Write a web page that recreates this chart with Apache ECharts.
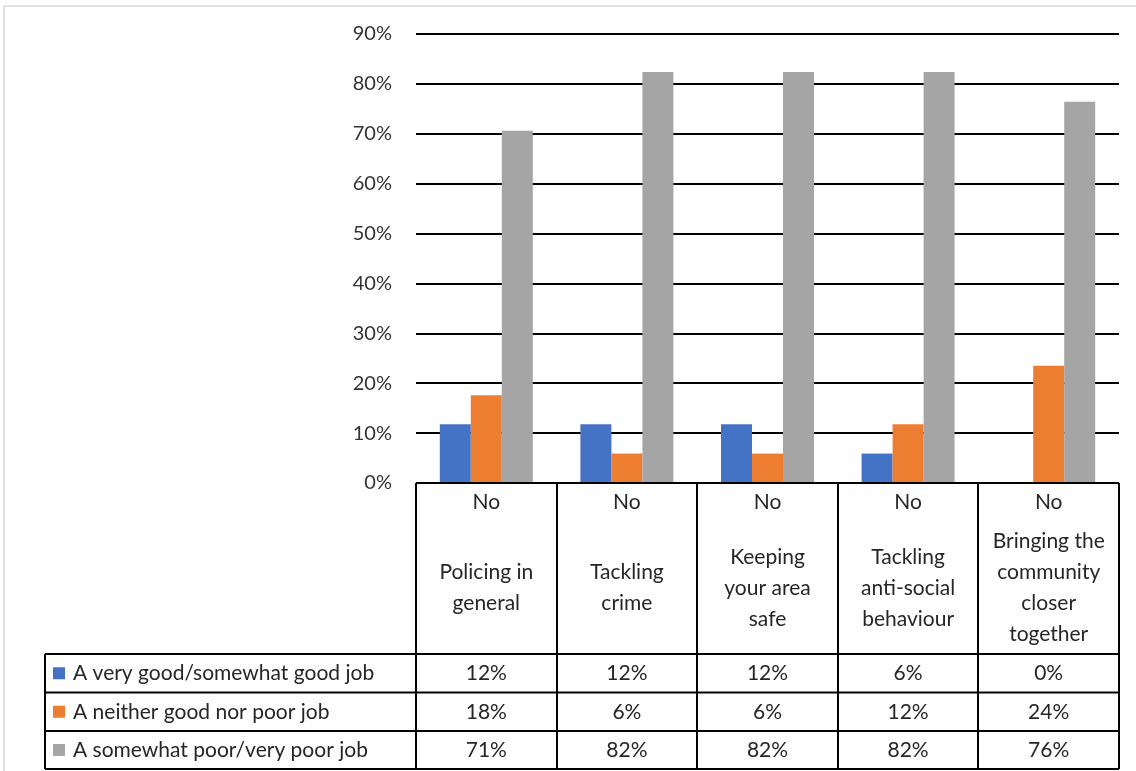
<!DOCTYPE html>
<html><head><meta charset="utf-8">
<script src="https://cdn.jsdelivr.net/npm/echarts@6/dist/echarts.min.js"></script>
<style>html,body{margin:0;padding:0;background:#fff}#c{width:1136px;height:771px}</style>
</head><body><div id="c"></div>
<script>
// ---- data ----
const categories = ['Policing in\ngeneral', 'Tackling\ncrime', 'Keeping\nyour area\nsafe', 'Tackling\nanti-social\nbehaviour', 'Bringing the\ncommunity\ncloser\ntogether'];
const outerLabel = 'No';
const seriesNames = ['A very good/somewhat good job', 'A neither good nor poor job', 'A somewhat poor/very poor job'];
const goodJob = [0.118, 0.118, 0.118, 0.059, 0];
const neitherJob = [0.176, 0.059, 0.059, 0.118, 0.235];
const poorJob = [0.706, 0.824, 0.824, 0.824, 0.764];
const yMin = 0, yMax = 0.9, yStep = 0.1;

// ---- style ----
const colors = ['#4472C4', '#ED7D31', '#A5A5A5'];
const FONT = 'Lato';
const FS = 21;
const AXFS = 20;
const TXT = '#262626';
const L = 416, R = 1119, T = 34, B = 483;
const rowY = [654, 692.5, 731, 769];
const legendLeft = 45;

const chart = echarts.init(document.getElementById('c'), null, {renderer: 'canvas'});
const allSeries = [goodJob, neitherJob, poorJob];

chart.setOption({
  animation: false,
  backgroundColor: '#fff',
  grid: {left: L, right: 1136 - R, top: T, bottom: 771 - B, containLabel: false},
  xAxis: {
    type: 'category', data: categories,
    axisLine: {show: false}, axisTick: {show: false}, axisLabel: {show: false}
  },
  yAxis: {
    type: 'value', min: yMin, max: yMax, interval: yStep,
    axisLine: {show: false}, axisTick: {show: false},
    axisLabel: {formatter: v => Math.round(v * 100) + '%', fontFamily: FONT, fontSize: AXFS, color: '#333', margin: 24},
    splitLine: {lineStyle: {color: '#000', width: 2}}
  },
  series: allSeries.map((d, i) => ({
    name: seriesNames[i], type: 'bar', data: d, barWidth: 31, barGap: '0%',
    itemStyle: {color: colors[i]}
  }))
});

// ---- data table drawn from the axis geometry ----
const c0 = chart.convertToPixel({xAxisIndex: 0}, 0);
const c1 = chart.convertToPixel({xAxisIndex: 0}, 1);
const bw = c1 - c0;
const els = [];
const line = (x1, y1, x2, y2, color, w) => els.push({type: 'line', shape: {x1, y1, x2, y2}, style: {stroke: color || '#000', lineWidth: w || 2}, z: 100});
const text = (x, y, t, align, extra) => els.push({type: 'text', x, y, style: Object.assign({text: t, fill: TXT, font: FS + 'px ' + FONT, align: align || 'center', verticalAlign: 'middle'}, extra || {}), z: 101});

// outer chart frame
els.push({type: 'rect', shape: {x: 4, y: 6, width: 1150, height: 790}, style: {fill: 'none', stroke: '#D9D9D9', lineWidth: 1.5}, z: 99});

// vertical separators
for (let i = 0; i <= categories.length; i++) {
  const x = Math.round(c0 - bw / 2 + i * bw);
  line(x, B, x, rowY[3]);
}
line(legendLeft, rowY[0], legendLeft, rowY[3]);
// horizontal rows
rowY.forEach(y => line(legendLeft, y, R, y));
line(L, B, R, B);

// header labels
categories.forEach((cat, i) => {
  const cx = chart.convertToPixel({xAxisIndex: 0}, i);
  text(cx, 502, outerLabel);
  text(cx, 588, cat, 'center', {lineHeight: 31});
});

// rows
allSeries.forEach((d, r) => {
  const cy = (rowY[r] + rowY[r + 1]) / 2;
  els.push({type: 'rect', shape: {x: 53, y: cy - 6, width: 12, height: 12}, style: {fill: colors[r]}, z: 101});
  text(73, cy, seriesNames[r], 'left');
  d.forEach((v, i) => {
    const cx = chart.convertToPixel({xAxisIndex: 0}, i);
    text(cx, cy, Math.round(v * 100) + '%');
  });
});

chart.setOption({graphic: {elements: els}});
</script></body></html>
